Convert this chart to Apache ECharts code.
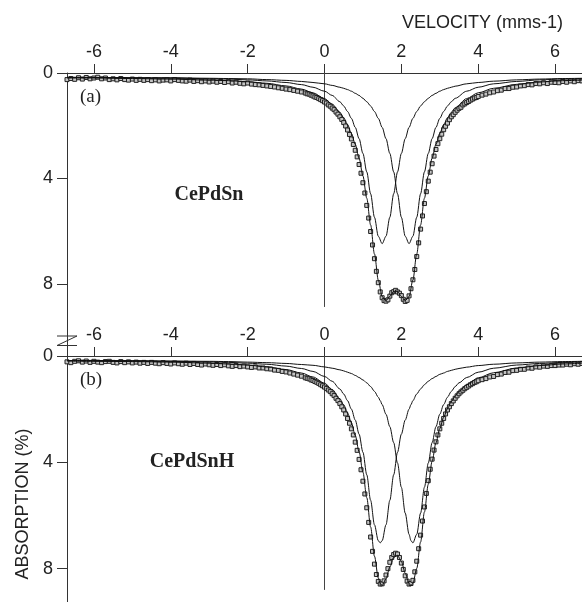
<!DOCTYPE html>
<html>
<head>
<meta charset="utf-8">
<script src="https://cdn.jsdelivr.net/npm/echarts@6/dist/echarts.min.js"></script>
<style>
  html, body { margin: 0; padding: 0; background: #fff; }
  #chart { width: 582px; height: 602px; }
</style>
</head>
<body>
<div id="chart"></div>
<script>
// Velocity channels (mm/s) of the measured spectra
const velocity = [
  -6.7,-6.6,-6.5,-6.4,-6.3,-6.2,-6.1,-6.0,-5.9,-5.8,-5.7,-5.6,-5.5,-5.4,-5.3,-5.2,-5.1,-5.0,-4.9,-4.8,
  -4.7,-4.6,-4.5,-4.4,-4.3,-4.2,-4.1,-4.0,-3.9,-3.8,-3.7,-3.6,-3.5,-3.4,-3.3,-3.2,-3.1,-3.0,-2.9,-2.8,
  -2.7,-2.6,-2.5,-2.4,-2.3,-2.2,-2.1,-2.0,-1.9,-1.8,-1.7,-1.6,-1.5,-1.4,-1.3,-1.2,-1.1,-1.0,-0.9,-0.8,
  -0.7,-0.6,
  -0.5,-0.45,-0.4,-0.35,-0.3,-0.25,-0.2,-0.15,-0.1,-0.05,
  0,0.05,0.1,0.15,0.2,0.25,0.3,0.35,0.4,0.45,
  0.5,0.55,0.6,0.65,0.7,0.75,0.8,0.85,0.9,0.95,
  1,1.05,1.1,1.15,1.2,1.25,1.3,1.35,1.4,1.45,
  1.5,1.55,1.6,1.65,1.7,1.75,1.8,1.85,1.9,1.95,
  2,2.05,2.1,2.15,2.2,2.25,2.3,2.35,2.4,2.45,
  2.5,2.55,2.6,2.65,2.7,2.75,2.8,2.85,2.9,2.95,
  3,3.05,3.1,3.15,3.2,3.25,3.3,3.35,3.4,3.45,
  3.5,3.55,3.6,3.65,3.7,3.75,3.8,3.85,3.9,3.95,
  4,
  4.1,4.2,4.3,4.4,4.5,4.6,4.7,4.8,4.9,5.0,5.1,5.2,5.3,5.4,5.5,5.6,5.7,5.8,5.9,6.0,
  6.1,6.2,6.3,6.4,6.5,6.6,6.7
];

// Measured absorption (%), CePdSn
const absorptionCePdSn = [
  0.25,0.21,0.24,0.18,0.23,0.17,0.22,0.19,0.16,0.22,0.19,0.25,0.22,0.26,0.21,0.25,0.27,0.23,0.28,0.24,
  0.28,0.25,0.29,0.26,0.30,0.27,0.26,0.30,0.25,0.28,0.30,0.31,0.27,0.32,0.29,0.33,0.30,0.34,0.31,0.35,
  0.32,0.36,0.33,0.38,0.35,0.39,0.41,0.38,0.42,0.44,0.45,0.47,0.49,0.51,0.53,0.56,0.58,0.61,0.63,0.66,
  0.69,0.72,
  0.76,0.79,0.80,0.84,0.87,0.91,0.93,0.97,1.01,1.05,
  1.10,1.14,1.21,1.26,1.33,1.39,1.48,1.56,1.66,1.76,
  1.88,2.01,2.16,2.33,2.50,2.71,2.93,3.18,3.47,3.80,
  4.16,4.55,5.02,5.50,6.01,6.52,7.04,7.52,7.95,8.30,
  8.52,8.63,8.65,8.60,8.46,8.33,8.29,8.24,8.30,8.35,
  8.44,8.58,8.66,8.62,8.45,8.18,7.84,7.45,6.96,6.44,
  5.92,5.42,4.95,4.50,4.10,3.76,3.44,3.15,2.90,2.68,
  2.49,2.32,2.15,2.02,1.90,1.77,1.66,1.58,1.49,1.41,
  1.34,1.30,1.21,1.17,1.12,1.08,1.03,0.99,0.95,0.93,
  0.89,
  0.84,0.80,0.75,0.72,0.67,0.65,0.59,0.59,0.54,0.53,0.49,0.48,0.44,0.45,0.40,0.41,0.37,0.40,0.35,0.36,
  0.37,0.32,0.35,0.30,0.33,0.29,0.30
];

// Measured absorption (%), CePdSnH
const absorptionCePdSnH = [
  0.22,0.25,0.20,0.18,0.23,0.19,0.24,0.20,0.23,0.25,0.21,0.20,0.24,0.26,0.21,0.25,0.22,0.26,0.23,0.27,
  0.24,0.28,0.24,0.27,0.29,0.25,0.28,0.30,0.26,0.29,0.31,0.27,0.32,0.28,0.32,0.34,0.30,0.33,0.35,0.32,
  0.36,0.33,0.37,0.39,0.36,0.40,0.38,0.41,0.43,0.41,0.45,0.45,0.48,0.49,0.53,0.54,0.58,0.60,0.64,0.68,
  0.72,0.76,
  0.82,0.84,0.86,0.90,0.92,0.96,0.99,1.03,1.08,1.12,
  1.17,1.22,1.28,1.34,1.42,1.49,1.59,1.68,1.79,1.91,
  2.03,2.18,2.35,2.53,2.74,2.97,3.24,3.55,3.89,4.28,
  4.71,5.19,5.71,6.26,6.81,7.35,7.83,8.22,8.48,8.58,
  8.57,8.46,8.24,8.00,7.76,7.58,7.47,7.42,7.45,7.58,
  7.79,8.03,8.27,8.47,8.58,8.56,8.44,8.12,7.72,7.25,
  6.74,6.21,5.68,5.17,4.69,4.26,3.88,3.54,3.23,2.97,
  2.74,2.53,2.35,2.18,2.03,1.91,1.79,1.69,1.59,1.50,
  1.42,1.35,1.29,1.23,1.18,1.13,1.08,1.04,1.00,0.97,
  0.93,
  0.89,0.85,0.79,0.77,0.70,0.68,0.62,0.61,0.55,0.54,0.50,0.50,0.45,0.46,0.41,0.42,0.38,0.39,0.36,0.36,
  0.34,0.34,0.31,0.33,0.29,0.31,0.28
];

// Fitted curves, CePdSn: total fit and the two Lorentzian sub-spectra
const fitVelocityCePdSn = [
  -6.7,-6,-5,-4,-3,-2.5,-2,-1.5,-1,-0.6,-0.3,0,0.2,0.4,
  0.5,0.6,0.7,0.8,0.9,1.0,1.1,1.2,1.3,1.4,1.5,1.6,1.7,1.8,1.9,2.0,
  2.1,2.2,2.3,2.4,2.5,2.6,2.7,2.8,2.9,3.0,3.1,3.2,3.3,3.4,
  3.7,4.0,4.4,5.0,5.6,6.2,6.7
];
const fitCePdSn = [
  0.19,0.19,0.21,0.23,0.27,0.29,0.33,0.39,0.49,0.61,0.75,0.97,1.18,1.49,
  1.70,1.96,2.29,2.70,3.23,3.90,4.75,5.76,6.86,7.85,8.48,8.63,8.47,8.28,8.28,8.47,
  8.63,8.48,7.85,6.86,5.76,4.75,3.90,3.23,2.70,2.29,1.96,1.70,1.49,1.32,
  0.97,0.75,0.58,0.43,0.34,0.29,0.27
];
const siteACePdSn = [
  0.17,0.17,0.18,0.19,0.22,0.23,0.26,0.30,0.36,0.44,0.54,0.69,0.85,1.09,
  1.25,1.46,1.72,2.06,2.49,3.05,3.75,4.58,5.47,6.19,6.47,6.19,5.47,4.58,3.75,3.05,
  2.49,2.06,1.72,1.46,1.25,1.09,0.96,0.85,0.77,0.69,0.63,0.58,0.54,0.50,
  0.41,0.36,0.31,0.26,0.23,0.21,0.20
];
const siteBCePdSn = [
  0.17,0.17,0.18,0.18,0.20,0.21,0.22,0.25,0.28,0.32,0.36,0.41,0.47,0.54,
  0.58,0.63,0.69,0.77,0.85,0.96,1.09,1.25,1.46,1.72,2.06,2.49,3.05,3.75,4.58,5.47,
  6.19,6.47,6.19,5.47,4.58,3.75,3.05,2.49,2.06,1.72,1.46,1.25,1.09,0.96,
  0.69,0.54,0.41,0.32,0.26,0.23,0.22
];

// Fitted curves, CePdSnH
const fitVelocityCePdSnH = [
  -6.7,-6,-5,-4,-3,-2.5,-2,-1.5,-1,-0.6,-0.3,0,0.2,0.4,
  0.5,0.6,0.7,0.8,0.9,1.0,1.1,1.2,1.3,1.4,1.45,1.5,1.6,1.7,1.8,1.9,
  2.0,2.1,2.2,2.25,2.3,2.4,2.5,2.6,2.7,2.8,2.9,3.0,3.1,3.2,3.3,3.4,3.5,
  3.7,4.0,4.4,5.0,5.6,6.2,6.7
];
const fitCePdSnH = [
  0.19,0.20,0.21,0.23,0.27,0.30,0.34,0.41,0.51,0.64,0.79,1.02,1.26,1.61,
  1.84,2.14,2.51,2.99,3.60,4.37,5.33,6.43,7.53,8.35,8.56,8.63,8.39,7.94,7.58,7.50,
  7.73,8.17,8.56,8.63,8.56,7.99,7.00,5.87,4.83,3.96,3.27,2.73,2.31,1.98,1.72,1.51,1.33,
  1.08,0.82,0.63,0.45,0.36,0.30,0.27
];
const siteACePdSnH = [
  0.17,0.18,0.18,0.20,0.22,0.24,0.27,0.31,0.38,0.47,0.58,0.77,0.95,1.24,
  1.43,1.68,2.00,2.41,2.94,3.62,4.47,5.43,6.35,6.95,7.03,6.95,6.35,5.43,4.47,3.62,
  2.94,2.41,2.00,1.83,1.68,1.43,1.24,1.08,0.95,0.85,0.77,0.69,0.64,0.58,0.54,0.50,0.47,
  0.42,0.36,0.31,0.26,0.23,0.21,0.20
];
const siteBCePdSnH = [
  0.17,0.17,0.18,0.19,0.20,0.21,0.23,0.25,0.28,0.32,0.35,0.41,0.46,0.52,
  0.56,0.61,0.66,0.73,0.81,0.90,1.01,1.15,1.33,1.55,1.68,1.83,2.19,2.66,3.26,4.03,
  4.94,5.91,6.71,6.95,7.03,6.71,5.91,4.94,4.03,3.26,2.66,2.19,1.83,1.55,1.33,1.15,1.01,
  0.81,0.61,0.46,0.34,0.28,0.24,0.22
];

// Axis ticks
const velocityTicks = [-6, -4, -2, 0, 2, 4, 6];
const absorptionTicks = [0, 4, 8];
// Depth down to which the zero-velocity guide is drawn in each panel
const zeroGuideDepth = [8.87, 8.8];

const SANS = '"Liberation Sans", Arial, Helvetica, sans-serif';
const SERIF = '"Liberation Serif", "Times New Roman", serif';
const INK = '#222';

function pairs(xs, ys) { return xs.map((x, i) => [x, ys[i]]); }

// Panel geometry: both panels share the velocity scale, absorption runs downward
const panels = [
  { top: 73, height: 283, yMax: 283 / 26.375 },
  { top: 356, height: 246, yMax: 246 / 26.58 }
];

const grids = panels.map(p => ({ left: 67, top: p.top, width: 516, height: p.height, containLabel: false }));

const xAxes = panels.map((p, i) => ({
  gridIndex: i, type: 'value', min: -6.7, max: 6.7, position: 'top',
  axisLine: { show: true, onZero: false, lineStyle: { color: '#333', width: 1 } },
  axisTick: { show: true, inside: false, length: 9, customValues: velocityTicks, lineStyle: { color: '#333', width: 1 } },
  axisLabel: { show: true, customValues: velocityTicks, margin: 12, fontSize: 18, fontFamily: SANS, color: INK },
  splitLine: { show: false }
}));

const yAxes = panels.map((p, i) => ({
  gridIndex: i, type: 'value', inverse: true, min: 0, max: p.yMax,
  axisLine: { show: true, onZero: false, lineStyle: { color: '#333', width: 1 } },
  axisTick: { show: true, inside: false, length: 10, customValues: absorptionTicks, lineStyle: { color: '#333', width: 1 } },
  axisLabel: { show: true, customValues: absorptionTicks, margin: 14, fontSize: 18, fontFamily: SANS, color: INK },
  splitLine: { show: false }
}));

function panelSeries(i, measured, fitX, fit, siteA, siteB) {
  const lineBase = {
    type: 'line', xAxisIndex: i, yAxisIndex: i, showSymbol: false, symbol: 'none',
    smooth: 0.3, smoothMonotone: 'x', silent: true,
    lineStyle: { color: '#111', width: 1 }, z: 4
  };
  return [
    {
      type: 'line', xAxisIndex: i, yAxisIndex: i, symbol: 'none', silent: true,
      data: [[0, 0], [0, zeroGuideDepth[i]]],
      lineStyle: { color: '#444', width: 1 }, z: 1
    },
    {
      type: 'scatter', xAxisIndex: i, yAxisIndex: i, symbol: 'rect', symbolSize: 4, silent: true,
      data: pairs(velocity, measured),
      itemStyle: { color: '#c4c4c4', borderColor: '#222', borderWidth: 1, opacity: 1 }, z: 3
    },
    Object.assign({}, lineBase, { data: pairs(fitX, siteA) }),
    Object.assign({}, lineBase, { data: pairs(fitX, siteB) }),
    Object.assign({}, lineBase, { data: pairs(fitX, fit) })
  ];
}

const series = [
  ...panelSeries(0, absorptionCePdSn, fitVelocityCePdSn, fitCePdSn, siteACePdSn, siteBCePdSn),
  ...panelSeries(1, absorptionCePdSnH, fitVelocityCePdSnH, fitCePdSnH, siteACePdSnH, siteBCePdSnH)
];

const textStyle = (text, font, align) => ({ text, font, fill: INK, align, verticalAlign: 'middle' });

const graphic = [
  { type: 'text', x: 563, y: 23, style: textStyle('VELOCITY (mms-1)', '18px ' + SANS, 'right') },
  { type: 'text', x: 23, y: 504, rotation: Math.PI / 2, style: textStyle('ABSORPTION (%)', '18px ' + SANS, 'center') },
  { type: 'text', x: 80, y: 97, style: textStyle('(a)', '19px ' + SERIF, 'left') },
  { type: 'text', x: 209, y: 195, style: textStyle('CePdSn', 'bold 20px ' + SERIF, 'center') },
  { type: 'text', x: 80, y: 380, style: textStyle('(b)', '19px ' + SERIF, 'left') },
  { type: 'text', x: 192, y: 462, style: textStyle('CePdSnH', 'bold 20px ' + SERIF, 'center') },
  // axis break mark between the two panels
  { type: 'polyline', shape: { points: [[57, 336], [77, 336], [57, 345.5], [77, 345.5]] },
    style: { stroke: '#333', lineWidth: 1, fill: null } }
];

const chart = echarts.init(document.getElementById('chart'), null, { renderer: 'canvas' });
chart.setOption({
  animation: false,
  backgroundColor: '#fff',
  grid: grids,
  xAxis: xAxes,
  yAxis: yAxes,
  series,
  graphic
});
</script>
</body>
</html>
